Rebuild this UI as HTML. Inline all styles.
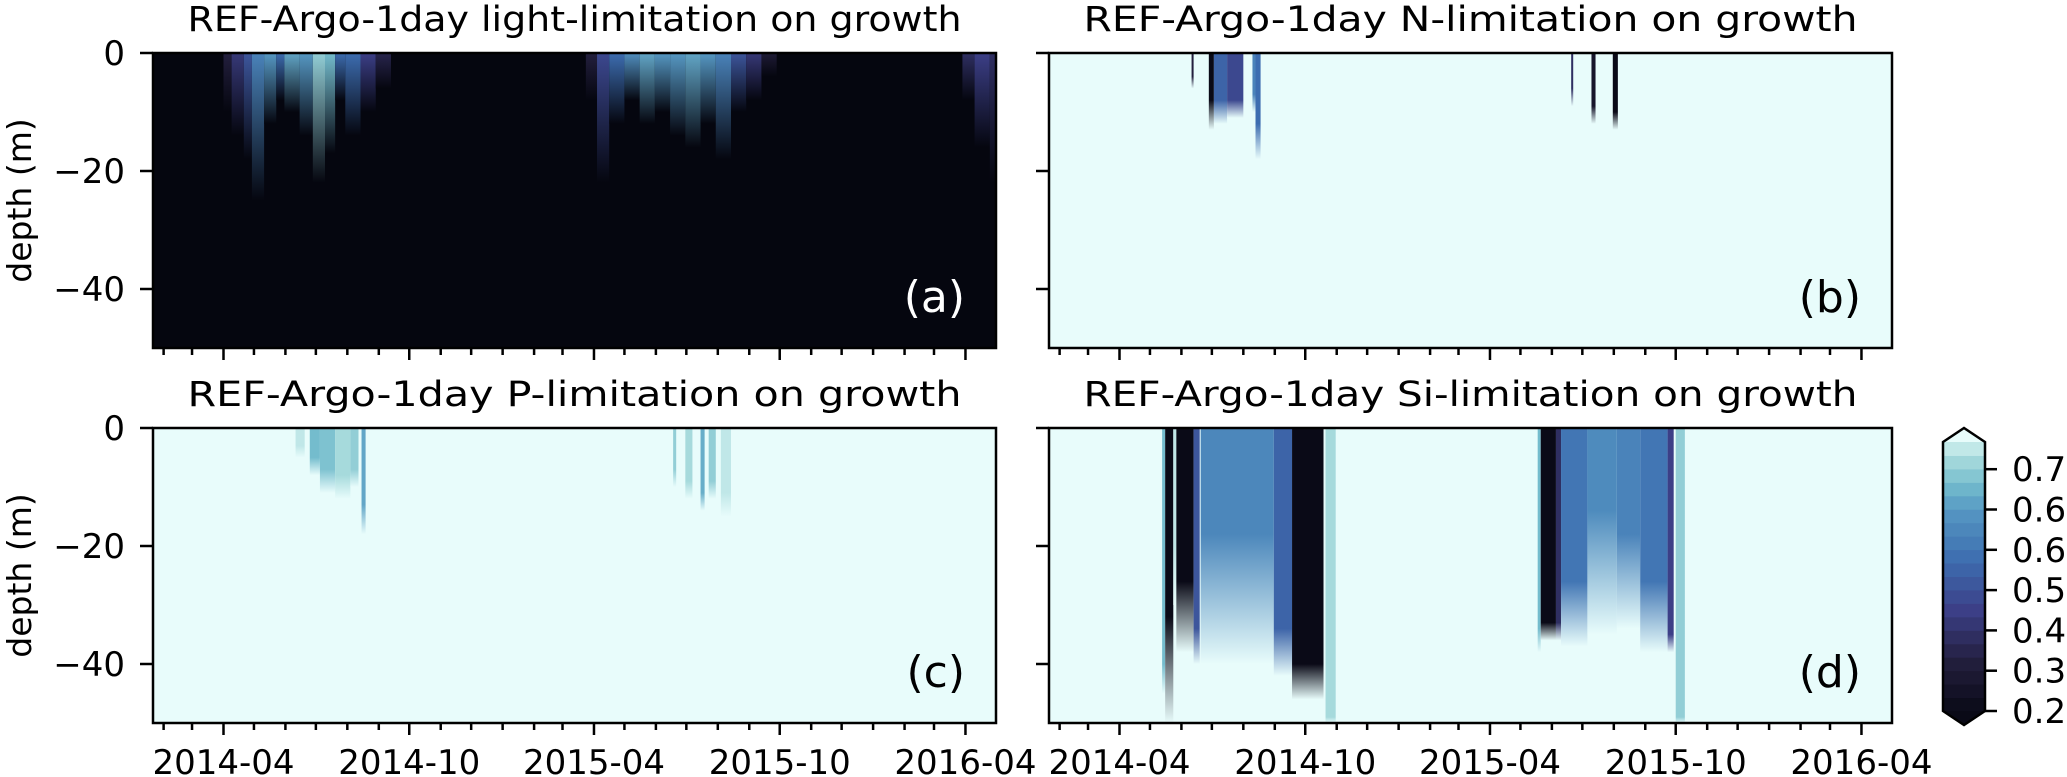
<!DOCTYPE html>
<html><head><meta charset="utf-8">
<style>
html,body{margin:0;padding:0;background:#fff;}
svg{display:block;font-family:"DejaVu Sans","Liberation Sans",sans-serif;}
</style></head>
<body>
<svg id="fig" width="2067" height="777" viewBox="0 0 2067 777" xmlns="http://www.w3.org/2000/svg">
<defs id="defs"></defs>
</svg>
<script>
// ---- data (days since 2014-04-01, value, solid depth m, fade depth m) ----
const aStart=[0,8,20,28,40,52,60,75,88,100,110,120,135,150, 357,368,380,395,410,425,440,455,470,485,500,515,530, 728,740,755];
const aEnd  =[8,20,28,40,52,60,75,88,100,110,120,135,150,165, 368,380,395,410,425,440,455,470,485,500,515,530,545, 740,755,765];
const aVal  =[0.3,0.38,0.45,0.55,0.6,0.5,0.62,0.6,0.68,0.65,0.5,0.5,0.4,0.32, 0.3,0.42,0.5,0.58,0.62,0.6,0.6,0.62,0.6,0.55,0.45,0.38,0.28, 0.35,0.4,0.35];
const aDepth=[10,14,18,25,12,8,10,14,22,17,8,14,10,6, 8,22,12,8,12,10,14,16,12,18,10,8,4, 8,16,22];

const bStart=[71,88,93,106,131,134,445,465,486];
const bEnd  =[73,93,106,122,134,139,447,469,491];
const bVal  =[0.3,0.2,0.48,0.42,0.55,0.5,0.35,0.25,0.2];
const bSolid=[4,8,8,8,7,12,6,9,10];
const bFade =[6,13,12,11,10,18,9,12,13];

const cStart=[71,85,95,110,125,136,443,455,470,478,490];
const cEnd  =[80,95,110,125,133,140,446,462,474,485,500];
const cVal  =[0.72,0.65,0.66,0.7,0.68,0.62,0.68,0.7,0.63,0.68,0.72];
const cSolid=[3,5,7,8,7,13,7,9,11,9,11];
const cFade =[5,8,11,12,10,18,10,12,14,12,15];

const dStart=[42,45,53,56,73,80,152,170,203, 412,415,430,435,461,490,513,540,548];
const dEnd  =[45,53,56,73,79,152,170,201,213, 415,430,435,461,490,513,540,546,557];
const dVal  =[0.65,0.2,0.72,0.2,0.45,0.56,0.48,0.2,0.7, 0.65,0.2,0.35,0.52,0.57,0.55,0.52,0.4,0.68];
const dSolid=[40,32,20,26,34,18,34,40,49, 34,33,33,26,14,18,26,35,49];
const dFade =[45,50,30,38,40,40,42,46,50, 38,36,36,37,35,34,38,38,50];

const cbarTickVals=[0.2,0.28,0.36,0.44,0.52,0.60,0.68];
const cbarTickLabels=["0.2","0.3","0.4","0.5","0.6","0.6","0.7"];
const yTickVals=[0,-20,-40];
const yTickLabels=["0","\u221220","\u221240"];
const majorTickLabels=["2014-04","2014-10","2015-04","2015-10","2016-04"];

// ---- layout ----
const NS="http://www.w3.org/2000/svg";
const svg=document.getElementById('fig');
const defs=document.getElementById('defs');
const PW=843, PH=295, PX=1.015, X0OFF=70.5;
const panels=[
 {id:'a',x:153,y:53,title:'REF-Argo-1day light-limitation on growth',bg:'#05060f',lab:'#ffffff',yl:true,xl:false,S:aStart,E:aEnd,V:aVal,So:null,F:aDepth},
 {id:'b',x:1049,y:53,title:'REF-Argo-1day N-limitation on growth',bg:'#e8fcfb',lab:'#000',yl:false,xl:false,S:bStart,E:bEnd,V:bVal,So:bSolid,F:bFade},
 {id:'c',x:153,y:428,title:'REF-Argo-1day P-limitation on growth',bg:'#e8fcfb',lab:'#000',yl:true,xl:true,S:cStart,E:cEnd,V:cVal,So:cSolid,F:cFade},
 {id:'d',x:1049,y:428,title:'REF-Argo-1day Si-limitation on growth',bg:'#e8fcfb',lab:'#000',yl:false,xl:true,S:dStart,E:dEnd,V:dVal,So:dSolid,F:dFade}
];
const stops=[[0.2,[10,10,23]],[0.3,[35,31,62]],[0.4,[60,63,135]],[0.5,[61,109,176]],[0.6,[86,152,195]],[0.65,[116,188,205]],[0.7,[166,218,220]],[0.75,[232,251,250]]];
function cmap(v){
 if(v<=stops[0][0])return rgb(stops[0][1]);
 for(let i=1;i<stops.length;i++){if(v<=stops[i][0]){const t=(v-stops[i-1][0])/(stops[i][0]-stops[i-1][0]);const a=stops[i-1][1],b=stops[i][1];return rgb([0,1,2].map(k=>a[k]+(b[k]-a[k])*t));}}
 return rgb(stops[stops.length-1][1]);
}
function rgb(c){return 'rgb('+c.map(x=>Math.round(x)).join(',')+')';}
function el(tag,attrs,parent){const e=document.createElementNS(NS,tag);for(const k in attrs)e.setAttribute(k,attrs[k]);(parent||svg).appendChild(e);return e;}
function dayOf(y,m){return Math.round((Date.UTC(y,m-1,1)-Date.UTC(2014,3,1))/86400000);}
let gid=0;
panels.forEach(p=>{
 const xs=d=>p.x+X0OFF+d*PX;
 const ys=m=>p.y+(-m)/50*PH;
 const g=el('g',{});
 
 
 const clip=el('clipPath',{id:'clip'+p.id},defs);
 el('rect',{x:p.x,y:p.y,width:PW,height:PH},clip);
 const bg=el('rect',{x:p.x,y:p.y,width:PW,height:PH,fill:p.bg},g);
 
 
 const fg=el('g',{'clip-path':'url(#clip'+p.id+')'},g);
 for(let i=0;i<p.S.length;i++){
  const col=cmap(p.V[i]);
  const x1=xs(p.S[i]),x2=xs(p.E[i]);
  const solid=p.So?p.So[i]:0;
  const fade=p.F[i];
  const id='gr'+(gid++);
  const lg=el('linearGradient',{id:id,x1:0,y1:0,x2:0,y2:1},defs);
  const fs=fade>0?solid/fade:0;
  el('stop',{offset:0,'stop-color':col},lg);
  el('stop',{offset:fs,'stop-color':col},lg);
  el('stop',{offset:1,'stop-color':p.bg},lg);
  const r=el('rect',{x:x1,y:p.y,width:Math.max(1,x2-x1),height:ys(-fade)-p.y,fill:'url(#'+id+')'},fg);
  
  
 }
 const fr=el('rect',{x:p.x,y:p.y,width:PW,height:PH,fill:'none',stroke:'#000','stroke-width':2.5},g);
 
 
 const t=el('text',{x:p.x+PW/2,y:p.y-22,'text-anchor':'middle','font-size':35,textLength:774,lengthAdjust:'spacingAndGlyphs',fill:'#000'},g);
 t.textContent=p.title;
 
 
 const pl=el('text',{x:p.x+PW-31,y:p.y+PH-36,'text-anchor':'end','font-size':44,fill:p.lab},g);
 pl.textContent='('+p.id+')';
 
 
 yTickVals.forEach((v,k)=>{
  const yy=ys(v);
  const tk=el('line',{x1:p.x-13,x2:p.x,y1:yy,y2:yy,stroke:'#000','stroke-width':2.5},g);
  
  
  if(p.yl){
   const tl=el('text',{x:p.x-28,y:yy+12,'text-anchor':'end','font-size':34,fill:'#000'},g);
   tl.textContent=yTickLabels[k];
   
   
  }
 });
 if(p.yl){
  const cy=p.y+PH/2;
  const yl=el('text',{x:31,y:cy,'text-anchor':'middle','font-size':33,transform:'rotate(-90 31 '+cy+')',fill:'#000'},g);
  yl.textContent='depth (m)';
  
  
 }
 let mi=0;
 for(let y=2014;y<=2016;y++)for(let m=1;m<=12;m++){
  const d=dayOf(y,m);const xx=xs(d);
  if(xx<p.x+1||xx>p.x+PW-1)continue;
  const major=(m===4||m===10);
  const tk=el('line',{x1:xx,x2:xx,y1:p.y+PH,y2:p.y+PH+(major?12:7),stroke:'#000','stroke-width':2.5},g);
  
  
  if(major&&p.xl){
   const tl=el('text',{x:xx,y:774,'text-anchor':'middle','font-size':34,fill:'#000'},g);
   tl.textContent=majorTickLabels[mi];
   
   
  }
  if(major)mi++;
 }
});
const CBX=1943,CBW=42,CBT=442,CBB=711,VMIN=0.2,VMAX=0.734;
const cv=v=>CBB-(v-VMIN)/(VMAX-VMIN)*(CBB-CBT);
const cg=el('g',{});


const NB=20;
for(let i=0;i<NB;i++){
 const v0=VMIN+(VMAX-VMIN)*i/NB,v1=VMIN+(VMAX-VMIN)*(i+1)/NB;
 const r=el('rect',{x:CBX,y:cv(v1),width:CBW,height:cv(v0)-cv(v1)+0.5,fill:cmap((v0+v1)/2)},cg);
 
 
}
const tri1=el('polygon',{points:`${CBX},${CBT} ${CBX+CBW/2},${CBT-14} ${CBX+CBW},${CBT}`,fill:'#e8fcfb'},cg);


const tri2=el('polygon',{points:`${CBX},${CBB} ${CBX+CBW/2},${CBB+14} ${CBX+CBW},${CBB}`,fill:'#0a0a17'},cg);


el('polygon',{points:`${CBX},${CBT} ${CBX+CBW/2},${CBT-14} ${CBX+CBW},${CBT} ${CBX+CBW},${CBB} ${CBX+CBW/2},${CBB+14} ${CBX},${CBB}`,fill:'none',stroke:'#000','stroke-width':2.5},cg);
cbarTickVals.forEach((v,k)=>{
 const yy=cv(v);
 el('line',{x1:CBX+CBW,x2:CBX+CBW+12,y1:yy,y2:yy,stroke:'#000','stroke-width':2.5},cg);
 const tl=el('text',{x:2012,y:yy+12,'font-size':34,fill:'#000'},cg);
 tl.textContent=cbarTickLabels[k];
 
 
});
</script>
</body></html>
